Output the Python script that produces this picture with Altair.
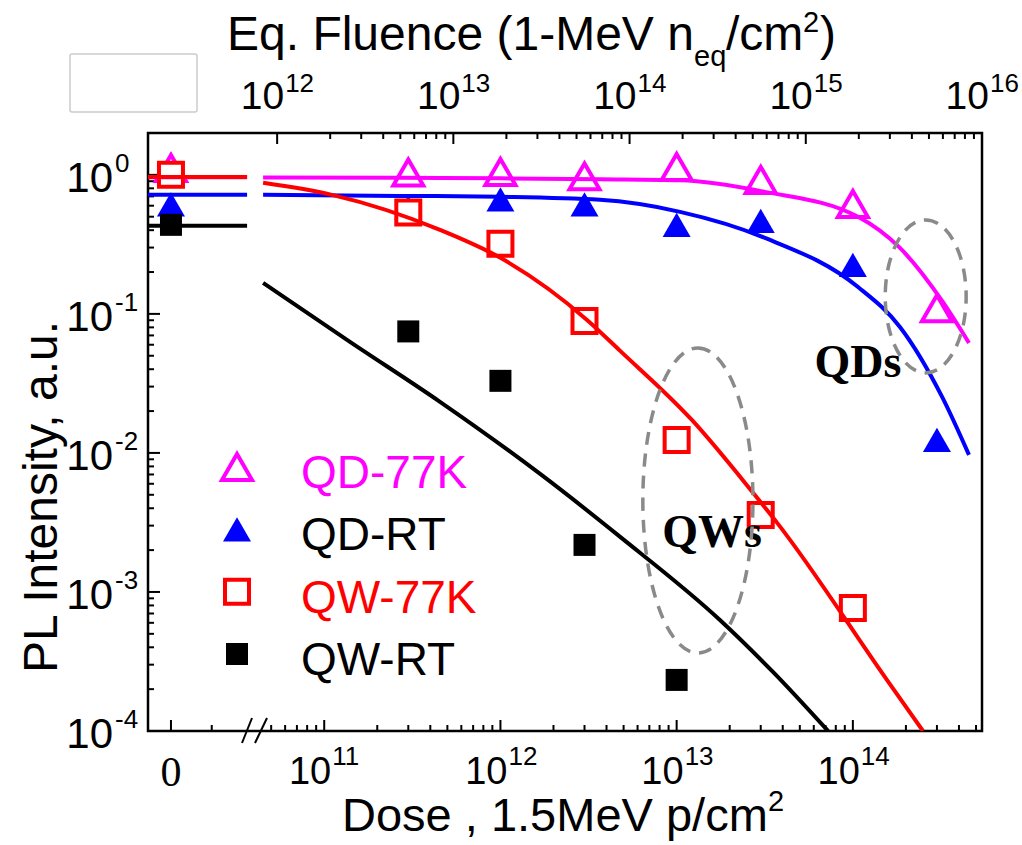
import altair as alt
import pandas as pd

# ---------------- data ----------------
SERIES = ["QD-77K", "QD-RT", "QW-77K", "QW-RT"]
COLORS = {"QD-77K": "#ff00ff", "QD-RT": "#0000ff", "QW-77K": "#ff0000", "QW-RT": "#000000"}
LEGEND_TEXT_COLORS = {"QD-77K": "#ff00ff", "QD-RT": "#000000", "QW-77K": "#ff0000", "QW-RT": "#000000"}

# measured points (dose in p/cm^2, 0 = unirradiated)
QD77_DOSE = [0, 3e11, 1e12, 3e12, 1e13, 3e13, 1e14, 3e14]
QD77_PL = [1.12, 1.04, 1.05, 0.975, 1.14, 0.92, 0.618, 0.110]
QDRT_DOSE = [0, 3e11, 1e12, 3e12, 1e13, 3e13, 1e14, 3e14]
QDRT_PL = [0.613, 0.58, 0.666, 0.613, 0.437, 0.467, 0.225, 0.0124]
QW77_DOSE = [0, 3e11, 1e12, 3e12, 1e13, 3e13, 1e14]
QW77_PL = [1.0, 0.537, 0.319, 0.089, 0.0124, 0.00358, 7.67e-4]
QWRT_DOSE = [0, 3e11, 1e12, 3e12, 1e13]
QWRT_PL = [0.437, 0.0748, 0.033, 0.00218, 2.33e-4]

# fitted curves
FIT_QD_DOSE = [4.5e10, 2.69e11, 1.0e12, 3.67e12, 1.045e13, 3.17e13, 1.07e14, 1.85e14, 3.21e14, 4.56e14]
FIT_QD77_PL = [0.959, 0.952, 0.944, 0.928, 0.913, 0.754, 0.499, 0.298, 0.124, 0.0618]
FIT_QDRT_PL = [0.718, 0.706, 0.695, 0.661, 0.542, 0.352, 0.156, 0.0806, 0.0253, 0.00968]
FIT_QW77_DOSE = [4.5e10, 1.107e11, 4.54e11, 1.0e12, 3.10e12, 4.78e12, 1.22e13, 2.72e13, 3.72e13, 1.56e14, 2.50e14]
FIT_QW77_PL = [0.876, 0.718, 0.402, 0.253, 0.0905, 0.0542, 0.01726, 0.00515, 0.00314, 2.33e-4, 1e-4]
FIT_QWRT_DOSE = [4.5e10, 1.40e11, 4.54e11, 1.68e12, 4.78e12, 1.76e13, 3.52e13, 7.23e13]
FIT_QWRT_PL = [0.167, 0.0629, 0.0233, 0.00706, 0.00249, 6.29e-4, 2.66e-4, 1e-4]

# fit level at zero dose (drawn left of the axis break)
ZERO_FIT_PL = {"QD-77K": 0.96, "QD-RT": 0.718, "QW-77K": 0.967, "QW-RT": 0.430}
ZERO_SEG_DOSE = [1.0e10, 3.65e10]

# annotations
ANNOT_TEXT = ["QDs", "QWs"]
ANNOT_DOSE = [1.07e14, 1.59e13]
ANNOT_PL = [0.0352, 0.00211]
ELLIPSE_DOSE = [2.59e14, 1.32e13]
ELLIPSE_PL = [0.1336, 0.00455]

# axis ticks
Y_MAJOR = [1.0, 1e-1, 1e-2, 1e-3, 1e-4]
Y_EXP = ["0", "-1", "-2", "-3", "-4"]
Y_MINOR = [k * 10.0 ** e for e in range(-4, 0) for k in range(2, 10)]
X_MAJOR = [0, 1e11, 1e12, 1e13, 1e14]
X_EXP = ["11", "12", "13", "14"]
X_MINOR = [2.3e10] + [k * 1e10 for k in range(5, 10)] + \
    [k * 10.0 ** e for e in range(11, 14) for k in range(2, 10)] + [2e14, 3e14, 4e14, 5e14]
F_MAJOR = [1e12, 1e13, 1e14, 1e15, 1e16]
F_EXP = ["12", "13", "14", "15", "16"]
F_MINOR = [k * 10.0 ** e for e in range(12, 16) for k in range(2, 10)]

# ---------------- layout ----------------
W, H = 834, 598
FLUENCE_FACTOR = 18.5          # 1-MeV neq fluence per 1.5 MeV proton
ZERO_POS = 1.35e10             # where dose = 0 is drawn
X_DOMAIN = [1.0e10, 1e16 / FLUENCE_FACTOR]
Y_DOMAIN = [1e-4, 2.0]
FONT = "Liberation Sans"
SERIF = "Liberation Serif"

xs = alt.Scale(type="log", domain=X_DOMAIN, nice=False)
ys = alt.Scale(type="log", domain=Y_DOMAIN, nice=False)
X = alt.X("xpos:Q", scale=xs, axis=None)
Y = alt.Y("pl:Q", scale=ys, axis=None)
XPOS = f"datum.dose == 0 ? {ZERO_POS} : datum.dose"

STYLE = {
    "QD-77K": dict(shape="triangle-up", size=900, open=True),
    "QD-RT": dict(shape="triangle-up", size=784, open=False),
    "QW-77K": dict(shape="square", size=576, open=True),
    "QW-RT": dict(shape="square", size=484, open=False),
}


def point_mark(chart, name):
    s = STYLE[name]
    c = COLORS[name]
    if s["open"]:
        return chart.mark_point(shape=s["shape"], size=s["size"], filled=True,
                                fill="white", stroke=c, strokeWidth=4, opacity=1)
    return chart.mark_point(shape=s["shape"], size=s["size"], filled=True,
                            fill=c, strokeWidth=0, opacity=1)


def df(dose, pl):
    return pd.DataFrame({"dose": dose, "pl": pl})


one = pd.DataFrame({"a": [0]})
layers = []

# decoration box top-left
layers.append(alt.Chart(one).mark_rect(fill="white", stroke="#cccccc", strokeWidth=1.5, cornerRadius=2)
              .encode(x=alt.value(-78), x2=alt.value(49), y=alt.value(-79), y2=alt.value(-21)))

# ticks (inward)
layers.append(alt.Chart(pd.DataFrame({"pl": Y_MAJOR})).mark_rule(color="black", strokeWidth=2)
              .encode(y=Y, x=alt.value(0), x2=alt.value(12)))
layers.append(alt.Chart(pd.DataFrame({"pl": Y_MINOR})).mark_rule(color="black", strokeWidth=2)
              .encode(y=Y, x=alt.value(0), x2=alt.value(6)))
layers.append(alt.Chart(pd.DataFrame({"dose": X_MAJOR})).transform_calculate(xpos=XPOS)
              .mark_rule(color="black", strokeWidth=2)
              .encode(x=X, y=alt.value(H), y2=alt.value(H - 11)))
layers.append(alt.Chart(pd.DataFrame({"dose": X_MINOR})).transform_calculate(xpos=XPOS)
              .mark_rule(color="black", strokeWidth=2)
              .encode(x=X, y=alt.value(H), y2=alt.value(H - 6)))
layers.append(alt.Chart(pd.DataFrame({"f": F_MAJOR})).transform_calculate(xpos=f"datum.f / {FLUENCE_FACTOR}")
              .mark_rule(color="black", strokeWidth=2)
              .encode(x=X, y=alt.value(0), y2=alt.value(11)))
layers.append(alt.Chart(pd.DataFrame({"f": F_MINOR})).transform_calculate(xpos=f"datum.f / {FLUENCE_FACTOR}")
              .mark_rule(color="black", strokeWidth=2)
              .encode(x=X, y=alt.value(0), y2=alt.value(6)))

# axis break marks
layers.append(alt.Chart(one).mark_rule(color="black", strokeWidth=2)
              .encode(x=alt.value(94), x2=alt.value(104), y=alt.value(H + 12), y2=alt.value(H - 13)))
layers.append(alt.Chart(one).mark_rule(color="black", strokeWidth=2)
              .encode(x=alt.value(107), x2=alt.value(119), y=alt.value(H + 12), y2=alt.value(H - 13)))

# tick labels: left
ylab = pd.DataFrame({"pl": Y_MAJOR, "exp": Y_EXP})
layers.append(alt.Chart(ylab).mark_text(text="10", font=FONT, fontSize=42, align="right",
                                        baseline="alphabetic", dy=17)
              .encode(y=Y, x=alt.value(-35)))
layers.append(alt.Chart(ylab).mark_text(font=FONT, fontSize=26, align="left", baseline="alphabetic", dy=-3)
              .encode(y=Y, x=alt.value(-33), text="exp:N"))
# bottom
xlab = pd.DataFrame({"dose": X_MAJOR[1:], "exp": X_EXP})
layers.append(alt.Chart(xlab).transform_calculate(xpos=XPOS)
              .mark_text(text="10", font=FONT, fontSize=38, align="right", baseline="alphabetic", dx=7, dy=53)
              .encode(x=X, y=alt.value(H)))
layers.append(alt.Chart(xlab).transform_calculate(xpos=XPOS)
              .mark_text(font=FONT, fontSize=26, align="left", baseline="alphabetic", dx=8, dy=34)
              .encode(x=X, y=alt.value(H), text="exp:N"))
layers.append(alt.Chart(pd.DataFrame({"dose": [0]})).transform_calculate(xpos=XPOS)
              .mark_text(text="0", font=SERIF, fontSize=42, align="center", baseline="alphabetic", dy=55)
              .encode(x=X, y=alt.value(H)))
# top
flab = pd.DataFrame({"f": F_MAJOR, "exp": F_EXP})
layers.append(alt.Chart(flab).transform_calculate(xpos=f"datum.f / {FLUENCE_FACTOR}")
              .mark_text(text="10", font=FONT, fontSize=39, align="right", baseline="alphabetic", dx=7, dy=-24)
              .encode(x=X, y=alt.value(0)))
layers.append(alt.Chart(flab).transform_calculate(xpos=f"datum.f / {FLUENCE_FACTOR}")
              .mark_text(font=FONT, fontSize=26, align="left", baseline="alphabetic", dx=8, dy=-41)
              .encode(x=X, y=alt.value(0), text="exp:N"))


# axis titles
def txt(s, x, y, size, align="left", angle=0, font=FONT, bold=False):
    kw = dict(text=s, font=font, fontSize=size, align=align, baseline="alphabetic", color="black")
    if angle:
        kw["angle"] = angle
    if bold:
        kw["fontWeight"] = "bold"
    return alt.Chart(one).mark_text(**kw).encode(x=alt.value(x), y=alt.value(y))


layers.append(txt("Dose , 1.5MeV p/cm", 194, 698, 47))
layers.append(txt("2", 620, 678, 29))
layers.append(txt("Eq. Fluence (1-MeV n", 79, -83, 48))
layers.append(txt("eq", 546, -67, 29))
layers.append(txt("/cm", 578, -83, 48))
layers.append(txt("2", 655, -101, 29))
layers.append(txt(")", 672, -83, 48))
layers.append(txt("PL Intensity, a.u.", -91, 364, 48, align="center", angle=270))

# markers
for name, dose, pl in [("QD-RT", QDRT_DOSE, QDRT_PL), ("QW-RT", QWRT_DOSE, QWRT_PL),
                       ("QD-77K", QD77_DOSE, QD77_PL), ("QW-77K", QW77_DOSE, QW77_PL)]:
    layers.append(point_mark(alt.Chart(df(dose, pl)).transform_calculate(xpos=XPOS), name).encode(x=X, y=Y))

# fit lines
for name, dose, pl in [("QD-77K", FIT_QD_DOSE, FIT_QD77_PL), ("QD-RT", FIT_QD_DOSE, FIT_QDRT_PL),
                       ("QW-RT", FIT_QWRT_DOSE, FIT_QWRT_PL), ("QW-77K", FIT_QW77_DOSE, FIT_QW77_PL)]:
    layers.append(alt.Chart(df(ZERO_SEG_DOSE, [ZERO_FIT_PL[name]] * 2)).transform_calculate(xpos=XPOS)
                  .mark_line(color=COLORS[name], strokeWidth=4).encode(x=X, y=Y))
    layers.append(alt.Chart(df(dose, pl)).transform_calculate(xpos=XPOS)
                  .mark_line(color=COLORS[name], strokeWidth=4, interpolate="monotone", clip=True)
                  .encode(x=X, y=Y))

# annotation text
layers.append(alt.Chart(pd.DataFrame({"dose": ANNOT_DOSE, "pl": ANNOT_PL, "t": ANNOT_TEXT}))
              .transform_calculate(xpos=XPOS)
              .mark_text(font=SERIF, fontWeight="bold", fontSize=46, align="center", baseline="alphabetic",
                         color="black")
              .encode(x=X, y=Y, text="t:N"))

# dashed ellipses
K = 0.5523


def ellipse_path(a):
    return (f"M0,-1 C{K*a:.4f},-1 {a:.4f},{-K:.4f} {a:.4f},0 "
            f"C{a:.4f},{K:.4f} {K*a:.4f},1 0,1 "
            f"C{-K*a:.4f},1 {-a:.4f},{K:.4f} {-a:.4f},0 "
            f"C{-a:.4f},{-K:.4f} {-K*a:.4f},-1 0,-1 Z")


for i, (a, size) in enumerate([(0.529, 23409), (0.361, 93025)]):
    layers.append(alt.Chart(df([ELLIPSE_DOSE[i]], [ELLIPSE_PL[i]])).transform_calculate(xpos=XPOS)
                  .mark_point(shape=ellipse_path(a), size=size, filled=False, stroke="#8a8a8a",
                              strokeWidth=3.5, strokeDash=[13, 9], opacity=1)
                  .encode(x=X, y=Y))

main = alt.layer(*layers)

# legend
LY = alt.Y("series:N", scale=alt.Scale(type="point", domain=SERIES, range=[334, 521], padding=0), axis=None)
leg_layers = []
for name in SERIES:
    d = pd.DataFrame({"series": [name]})
    leg_layers.append(point_mark(alt.Chart(d), name).encode(y=LY, x=alt.value(89)))
    leg_layers.append(alt.Chart(d).mark_text(font=FONT, fontSize=46, align="left", baseline="alphabetic",
                                             dy=21, color=LEGEND_TEXT_COLORS[name])
                      .encode(y=LY, x=alt.value(153), text="series:N"))
legend = alt.layer(*leg_layers)

chart = (alt.layer(main, legend)
         .resolve_scale(y="independent")
         .properties(width=W, height=H,
                     padding={"left": 148, "top": 133, "right": 40, "bottom": 114},
                     autosize=alt.AutoSizeParams(type="none"))
         .configure_view(stroke="black", strokeWidth=2.5))

chart.save("out.html", embed_options={"renderer": "svg", "actions": False})
